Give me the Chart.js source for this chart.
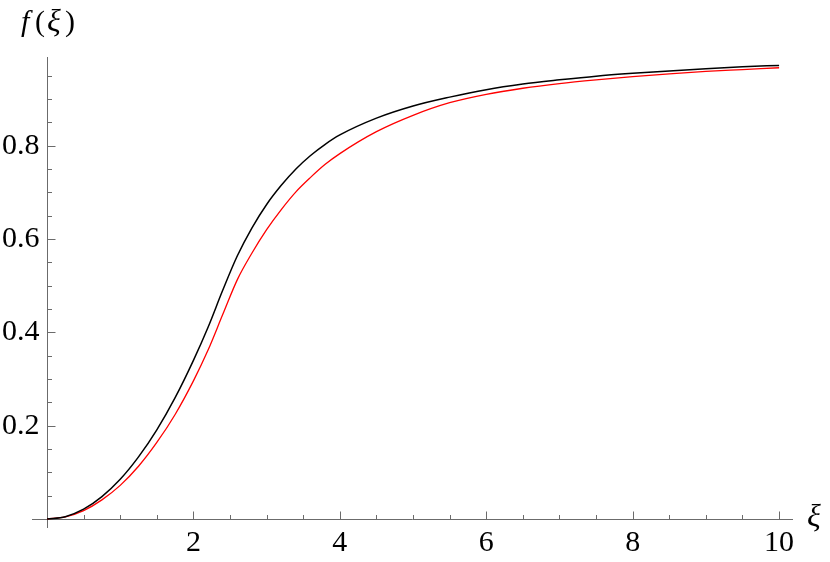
<!DOCTYPE html>
<html>
<head>
<meta charset="utf-8">
<script src="https://cdn.jsdelivr.net/npm/chart.js@4.4.1/dist/chart.umd.min.js"></script>
<style>
  html, body { margin: 0; padding: 0; background: #fff; }
  #wrap { width: 830px; height: 562px; }
</style>
</head>
<body>
<div id="wrap"><canvas id="plot"></canvas></div>
<script>
// readings of the two curves, f(xi)
const xi = [0, 0.25, 0.5, 0.75, 1, 1.25, 1.5, 1.75, 2, 2.2, 2.4, 2.6, 2.8, 3, 3.2, 3.4, 3.6, 3.8, 4, 4.5, 5, 5.5, 6, 6.5, 7, 7.5, 8, 8.5, 9, 9.5, 10];
const blackCurve = [0, 0.005, 0.021, 0.048, 0.085, 0.133, 0.191, 0.260, 0.340, 0.411, 0.490, 0.564, 0.624, 0.674, 0.715, 0.750, 0.779, 0.803, 0.823, 0.859, 0.885, 0.904, 0.920, 0.932, 0.941, 0.949, 0.955, 0.960, 0.965, 0.969, 0.972];
const redCurve = [0, 0.0045, 0.018, 0.041, 0.072, 0.113, 0.164, 0.224, 0.296, 0.362, 0.438, 0.513, 0.570, 0.620, 0.663, 0.701, 0.732, 0.760, 0.783, 0.830, 0.865, 0.892, 0.910, 0.923, 0.933, 0.941, 0.948, 0.954, 0.959, 0.963, 0.967];

const xTicks = [2, 4, 6, 8, 10];
const yTicks = [0.2, 0.4, 0.6, 0.8];
const xMinorStep = 0.5;
const yMinorStep = 0.05;

const serif = '"Liberation Serif", "DejaVu Serif", serif';

function toPoints(ys) {
    return xi.map((x, i) => ({ x: x, y: ys[i] }));
}

// Mathematica style axes: lines through the origin, ticks pointing inward
const axesPlugin = {
    id: 'originAxes',
    beforeDatasetsDraw(chart) {
        const ctx = chart.ctx;
        const xs = chart.scales.x, ys = chart.scales.y;
        const x0 = Math.round(xs.getPixelForValue(0)) + 0.5;
        const y0 = Math.round(ys.getPixelForValue(0)) + 0.5;
        ctx.save();
        ctx.strokeStyle = '#6b6b6b';
        ctx.lineWidth = 1;
        ctx.beginPath();
        ctx.moveTo(xs.left, y0);
        ctx.lineTo(xs.right, y0);
        ctx.moveTo(x0, ys.top);
        ctx.lineTo(x0, ys.bottom);

        for (let v = xMinorStep; v <= xs.max + 1e-9; v += xMinorStep) {
            const px = Math.round(xs.getPixelForValue(v)) + 0.5;
            const major = xTicks.some(t => Math.abs(t - v) < 1e-6);
            ctx.moveTo(px, y0);
            ctx.lineTo(px, y0 - (major ? 8 : 4.5));
        }
        for (let v = yMinorStep; v <= ys.max + 1e-9; v += yMinorStep) {
            const py = Math.round(ys.getPixelForValue(v)) + 0.5;
            const major = yTicks.some(t => Math.abs(t - v) < 1e-6);
            ctx.moveTo(x0, py);
            ctx.lineTo(x0 + (major ? 8 : 4.5), py);
        }
        ctx.stroke();
        ctx.restore();
    },
    afterDraw(chart) {
        const ctx = chart.ctx;
        ctx.save();
        ctx.fillStyle = '#000';
        ctx.textBaseline = 'alphabetic';
        // f(xi) at top left
        const parts = [['f', 'italic 30px', 21], ['(', '30px', 35], ['\u03BE', 'italic 32px', 47], [')', '30px', 65]];
        parts.forEach(p => {
            ctx.font = p[1] + ' ' + serif;
            ctx.fillText(p[0], p[2], 31);
        });
        // xi next to the horizontal axis
        ctx.font = 'italic 32px ' + serif;
        ctx.fillText('\u03BE', 807, 526);
        ctx.restore();
    }
};

const ctx = document.getElementById('plot').getContext('2d');
const chart = new Chart(ctx, {
    type: 'scatter',
    data: {
        datasets: [
            {
                label: 'black',
                data: toPoints(blackCurve),
                showLine: true,
                borderColor: '#000000',
                borderWidth: 1.5,
                pointRadius: 0,
                cubicInterpolationMode: 'monotone'
            },
            {
                label: 'red',
                data: toPoints(redCurve),
                showLine: true,
                borderColor: '#ff0000',
                borderWidth: 1.3,
                pointRadius: 0,
                cubicInterpolationMode: 'monotone'
            }
        ]
    },
    options: {
        responsive: true,
        maintainAspectRatio: false,
        animation: false,
        layout: { padding: { top: 57, right: 37, left: 0, bottom: 0 } },
        plugins: {
            legend: { display: false },
            tooltip: { enabled: false }
        },
        scales: {
            x: {
                type: 'linear',
                min: -0.205,
                max: 10.19,
                border: { display: false },
                grid: { display: false, drawTicks: false },
                afterBuildTicks: scale => { scale.ticks = xTicks.map(v => ({ value: v })); },
                afterFit: scale => { scale.height = 34; },
                ticks: {
                    padding: -3,
                    color: '#000',
                    maxRotation: 0,
                    font: { family: serif, size: 30 },
                    callback: v => String(v)
                }
            },
            y: {
                type: 'linear',
                min: -0.0193,
                max: 0.99,
                border: { display: false },
                grid: { display: false, drawTicks: false },
                afterBuildTicks: scale => { scale.ticks = yTicks.map(v => ({ value: v })); },
                afterFit: scale => { scale.width = 32; },
                ticks: {
                    mirror: true,
                    crossAlign: 'near',
                    padding: -30,
                    color: '#000',
                    font: { family: serif, size: 30 },
                    callback: v => v.toFixed(1)
                }
            }
        }
    },
    plugins: [axesPlugin]
});
</script>
</body>
</html>
